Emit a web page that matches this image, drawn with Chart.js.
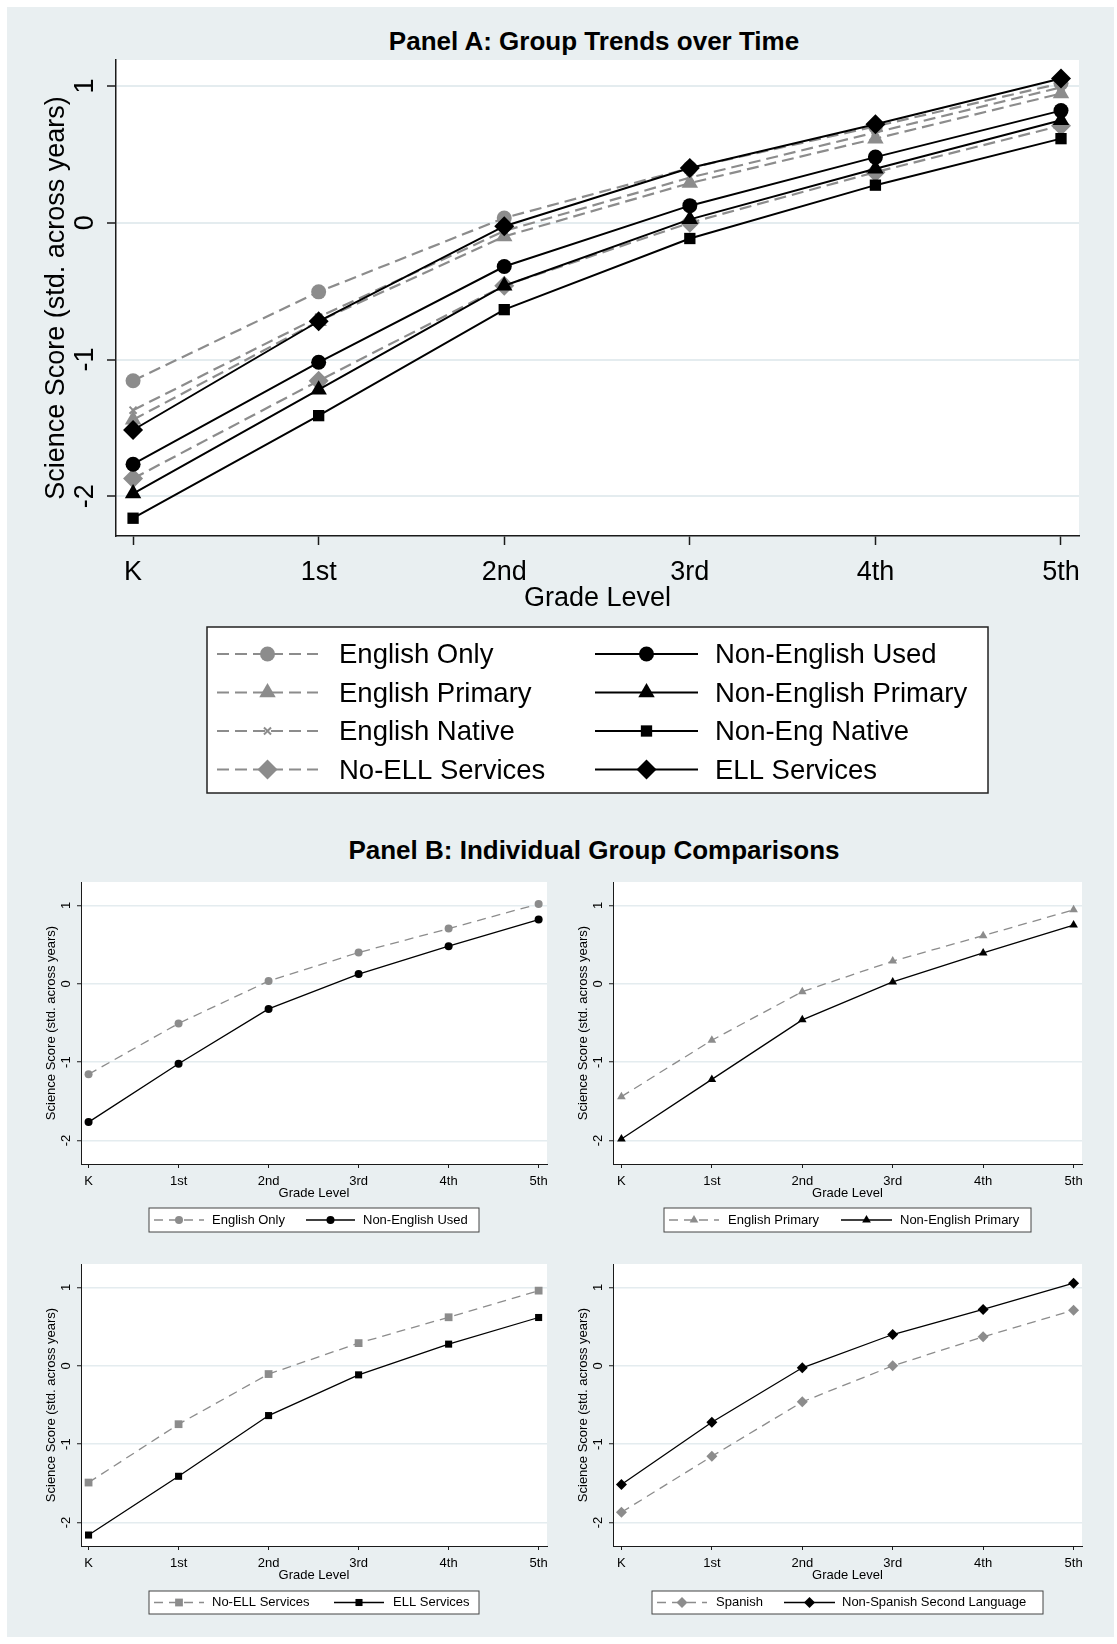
<!DOCTYPE html>
<html>
<head>
<meta charset="utf-8">
<script src="https://cdn.jsdelivr.net/npm/chart.js@4.4.1/dist/chart.umd.min.js"></script>
<style>
  html, body { margin: 0; padding: 0; background: #ffffff; }
  body { width: 1117px; height: 1644px; position: relative; overflow: hidden; font-family: 'Liberation Sans', Arial, sans-serif; }
  #bg { position: absolute; left: 7px; top: 7px; width: 1107px; height: 1630px; background: #e9eff1; }
  .title { position: absolute; left: 94px; width: 1000px; text-align: center; font-weight: bold; font-size: 26px; line-height: 30px; color: #000; }
  .wrap { position: absolute; }
  canvas { display: block; }
</style>
</head>
<body>
<div id="bg"></div>
<div class="title" style="top: 26px;">Panel A: Group Trends over Time</div>
<div class="title" style="top: 835px;">Panel B: Individual Group Comparisons</div>
<div class="wrap"><canvas id="panelA"></canvas></div>
<div class="wrap"><canvas id="panelB1"></canvas></div>
<div class="wrap"><canvas id="panelB2"></canvas></div>
<div class="wrap"><canvas id="panelB3"></canvas></div>
<div class="wrap"><canvas id="panelB4"></canvas></div>

<script>
const grades = ['K', '1st', '2nd', '3rd', '4th', '5th'];
const yTicks = [-2, -1, 0, 1];
const xTitle = 'Grade Level';
const yTitle = 'Science Score (std. across years)';

// Panel A series
const englishOnly = [-1.155, -0.505, 0.035, 0.40, 0.705, 1.02];
const englishPrimary = [-1.44, -0.72, -0.10, 0.29, 0.615, 0.945];
const englishNative = [-1.37, -0.69, -0.06, 0.33, 0.66, 0.99];
const noEllServices = [-1.87, -1.155, -0.46, 0.0, 0.37, 0.71];
const nonEnglishUsed = [-1.765, -1.02, -0.32, 0.125, 0.48, 0.82];
const nonEnglishPrimary = [-1.98, -1.22, -0.46, 0.025, 0.395, 0.75];
const nonEngNative = [-2.16, -1.41, -0.635, -0.115, 0.275, 0.615];
const ellServices = [-1.515, -0.72, -0.025, 0.40, 0.72, 1.055];

// Panel B, bottom row as labelled there
const noEllB = [-1.49, -0.745, -0.105, 0.29, 0.62, 0.96];
const ellB = [-2.16, -1.41, -0.635, -0.115, 0.277, 0.617];
const spanish = [-1.87, -1.155, -0.46, 0.0, 0.37, 0.71];
const nonSpanish = [-1.515, -0.72, -0.025, 0.40, 0.72, 1.055];

const FONT = "'Liberation Sans', Arial, sans-serif";
const BLACK = '#000000';
const GREY = '#8c8c8c';
const GRID = '#e4ecef';
const AXIS = '#1a1a1a';

function series(label, values, grey, style, r, lw, dash) {
    const color = grey ? GREY : BLACK;
    return {
        label: label,
        data: values.map((v, i) => ({ x: i, y: v })),
        borderColor: color,
        borderWidth: lw,
        borderDash: grey ? dash : [],
        pointStyle: style,
        pointRadius: r,
        pointHoverRadius: r,
        pointBackgroundColor: color,
        pointBorderColor: color,
        pointBorderWidth: style === 'crossRot' ? 2 : 0,
        tension: 0,
        fill: false,
        clip: false
    };
}

function drawMarker(ctx, style, r, x, y, color, bw) {
    ctx.save();
    ctx.fillStyle = color;
    ctx.strokeStyle = color;
    ctx.lineWidth = bw || 1;
    ctx.setLineDash([]);
    ctx.beginPath();
    if (style === 'circle') {
        ctx.arc(x, y, r, 0, Math.PI * 2);
        ctx.fill();
    } else if (style === 'triangle') {
        let a = 0;
        ctx.moveTo(x + Math.sin(a) * r, y - Math.cos(a) * r);
        a += Math.PI * 2 / 3;
        ctx.lineTo(x + Math.sin(a) * r, y - Math.cos(a) * r);
        a += Math.PI * 2 / 3;
        ctx.lineTo(x + Math.sin(a) * r, y - Math.cos(a) * r);
        ctx.closePath();
        ctx.fill();
    } else if (style === 'rect') {
        const h = r * Math.SQRT1_2;
        ctx.rect(x - h, y - h, 2 * h, 2 * h);
        ctx.fill();
    } else if (style === 'rectRot') {
        ctx.moveTo(x - r, y);
        ctx.lineTo(x, y - r);
        ctx.lineTo(x + r, y);
        ctx.lineTo(x, y + r);
        ctx.closePath();
        ctx.fill();
    } else if (style === 'crossRot') {
        const d = r * Math.SQRT1_2;
        ctx.moveTo(x - d, y - d);
        ctx.lineTo(x + d, y + d);
        ctx.moveTo(x + d, y - d);
        ctx.lineTo(x - d, y + d);
        ctx.stroke();
    }
    ctx.restore();
}

const stataPlot = {
    id: 'stataPlot',
    beforeDraw(chart) {
        const { ctx, chartArea: a } = chart;
        ctx.save();
        ctx.fillStyle = '#ffffff';
        ctx.fillRect(a.left, a.top, a.right - a.left, a.bottom - a.top);
        ctx.restore();
    },
    afterDraw(chart, args, o) {
        const { ctx, chartArea: a } = chart;
        const x = chart.scales.x;
        const y = chart.scales.y;
        ctx.save();
        ctx.fillStyle = '#000';
        ctx.font = o.fontSize + 'px ' + FONT;
        ctx.textAlign = 'center';
        ctx.textBaseline = 'middle';
        yTicks.forEach(v => {
            ctx.save();
            ctx.translate(a.left - o.yLabelGap, y.getPixelForValue(v));
            ctx.rotate(-Math.PI / 2);
            ctx.fillText(String(v), 0, 0);
            ctx.restore();
        });
        grades.forEach((g, i) => ctx.fillText(g, x.getPixelForValue(i), a.bottom + o.xLabelGap));
        ctx.fillText(xTitle, (a.left + a.right) / 2, a.bottom + o.xTitleGap);
        ctx.save();
        ctx.translate(a.left - o.yTitleGap, (a.top + a.bottom) / 2);
        ctx.rotate(-Math.PI / 2);
        ctx.fillText(yTitle, 0, 0);
        ctx.restore();

        // legend box, page coordinates shifted to this canvas
        const lg = o.legend;
        const ox = o.ox, oy = o.oy;
        ctx.fillStyle = '#ffffff';
        ctx.fillRect(lg.box[0] - ox, lg.box[1] - oy, lg.box[2] - lg.box[0], lg.box[3] - lg.box[1]);
        ctx.strokeStyle = lg.edge;
        ctx.lineWidth = lg.edgeWidth;
        ctx.strokeRect(lg.box[0] - ox, lg.box[1] - oy, lg.box[2] - lg.box[0], lg.box[3] - lg.box[1]);
        lg.items.forEach(it => {
            const ds = chart.data.datasets[it.ds];
            const ly = it.y - oy;
            ctx.save();
            ctx.strokeStyle = ds.borderColor;
            ctx.lineWidth = ds.borderWidth;
            ctx.setLineDash(ds.borderDash || []);
            ctx.beginPath();
            ctx.moveTo(it.x0 - ox, ly);
            ctx.lineTo(it.x1 - ox, ly);
            ctx.stroke();
            ctx.restore();
            drawMarker(ctx, ds.pointStyle, ds.pointRadius, (it.x0 + it.x1) / 2 - ox, ly, ds.pointBackgroundColor, ds.pointBorderWidth);
            ctx.fillStyle = '#000';
            ctx.font = lg.fontSize + 'px ' + FONT;
            ctx.textAlign = 'left';
            ctx.fillText(ds.label, it.tx - ox, ly + (lg.textShift || 0));
        });
        ctx.restore();
    }
};

function makeChart(id, frame, plot, xRange, yRange, datasets, look) {
    const canvas = document.getElementById(id);
    const wrap = canvas.parentElement;
    wrap.style.left = frame.x + 'px';
    wrap.style.top = frame.y + 'px';
    canvas.width = frame.w;
    canvas.height = frame.h;
    const t = look.tickLength;
    return new Chart(canvas, {
        type: 'line',
        data: { datasets: datasets },
        plugins: [stataPlot],
        options: {
            responsive: false,
            animation: false,
            events: [],
            layout: {
                padding: {
                    left: plot.l - frame.x - t,
                    top: plot.t - frame.y,
                    right: frame.x + frame.w - plot.r,
                    bottom: frame.y + frame.h - plot.b - t
                }
            },
            scales: {
                x: {
                    type: 'linear',
                    min: xRange[0],
                    max: xRange[1],
                    afterBuildTicks: s => { s.ticks = grades.map((g, i) => ({ value: i })); },
                    afterFit: s => { s.height = t; },
                    ticks: { display: false },
                    grid: { drawOnChartArea: false, drawTicks: true, tickLength: t, tickColor: AXIS, tickWidth: look.axisWidth },
                    border: { display: true, color: AXIS, width: look.axisWidth }
                },
                y: {
                    type: 'linear',
                    min: yRange[0],
                    max: yRange[1],
                    afterBuildTicks: s => { s.ticks = yTicks.map(v => ({ value: v })); },
                    afterFit: s => { s.width = t; },
                    ticks: { display: false },
                    grid: { color: GRID, lineWidth: look.gridWidth, drawTicks: true, tickLength: t, tickColor: AXIS, tickWidth: look.axisWidth },
                    border: { display: true, color: AXIS, width: look.axisWidth }
                }
            },
            plugins: {
                legend: { display: false },
                tooltip: { enabled: false },
                stataPlot: Object.assign({ ox: frame.x, oy: frame.y }, look)
            }
        }
    });
}

// Panel A
const dashA = [12, 6];
const chartA = makeChart('panelA',
    { x: 0, y: 0, w: 1117, h: 820 },
    { l: 116, t: 60, r: 1079, b: 536 },
    [-0.092, 5.097], [-2.29, 1.19],
    [
        series('Non-English Used', nonEnglishUsed, false, 'circle', 7.5, 2, dashA),
        series('Non-English Primary', nonEnglishPrimary, false, 'triangle', 9.5, 2, dashA),
        series('Non-Eng Native', nonEngNative, false, 'rect', 8, 2, dashA),
        series('ELL Services', ellServices, false, 'rectRot', 10, 2, dashA),
        series('English Only', englishOnly, true, 'circle', 7.5, 2.2, dashA),
        series('English Primary', englishPrimary, true, 'triangle', 9.5, 2.2, dashA),
        series('English Native', englishNative, true, 'crossRot', 5, 2.2, dashA),
        series('No-ELL Services', noEllServices, true, 'rectRot', 10, 2.2, dashA)
    ],
    {
        fontSize: 27, tickLength: 9, axisWidth: 1.5, gridWidth: 2,
        yLabelGap: 30, yTitleGap: 59, xLabelGap: 37, xTitleGap: 63,
        legend: {
            box: [207, 627, 988, 793], edge: '#222', edgeWidth: 1.5, fontSize: 27.5, textShift: 1.5,
            items: [
                { ds: 4, x0: 217, x1: 318, tx: 339, y: 654 },
                { ds: 5, x0: 217, x1: 318, tx: 339, y: 692.5 },
                { ds: 6, x0: 217, x1: 318, tx: 339, y: 731 },
                { ds: 7, x0: 217, x1: 318, tx: 339, y: 769.5 },
                { ds: 0, x0: 595, x1: 698, tx: 715, y: 654 },
                { ds: 1, x0: 595, x1: 698, tx: 715, y: 692.5 },
                { ds: 2, x0: 595, x1: 698, tx: 715, y: 731 },
                { ds: 3, x0: 595, x1: 698, tx: 715, y: 769.5 }
            ]
        }
    });

// Panel B
const dashB = [9, 6];
const lookB = { fontSize: 13, tickLength: 4, axisWidth: 1, gridWidth: 1.5, yLabelGap: 15, yTitleGap: 30, xLabelGap: 17, xTitleGap: 29 };

const chartB1 = makeChart('panelB1',
    { x: 0, y: 860, w: 560, h: 400 },
    { l: 81, t: 882, r: 547, b: 1164 },
    [-0.084, 5.093], [-2.3, 1.3],
    [
        series('Non-English Used', nonEnglishUsed, false, 'circle', 4, 1.3, dashB),
        series('English Only', englishOnly, true, 'circle', 4, 1.3, dashB)
    ],
    Object.assign({}, lookB, {
        legend: {
            box: [149, 1208, 479, 1232], edge: '#444', edgeWidth: 1, fontSize: 13,
            items: [
                { ds: 1, x0: 154, x1: 204, tx: 212, y: 1220 },
                { ds: 0, x0: 306, x1: 355, tx: 363, y: 1220 }
            ]
        }
    }));

const chartB2 = makeChart('panelB2',
    { x: 560, y: 860, w: 557, h: 400 },
    { l: 613, t: 882, r: 1082, b: 1164 },
    [-0.093, 5.093], [-2.3, 1.3],
    [
        series('Non-English Primary', nonEnglishPrimary, false, 'triangle', 5, 1.3, dashB),
        series('English Primary', englishPrimary, true, 'triangle', 5, 1.3, dashB)
    ],
    Object.assign({}, lookB, {
        legend: {
            box: [664, 1208, 1031, 1232], edge: '#444', edgeWidth: 1, fontSize: 13,
            items: [
                { ds: 1, x0: 669, x1: 719, tx: 728, y: 1220 },
                { ds: 0, x0: 841, x1: 892, tx: 900, y: 1220 }
            ]
        }
    }));

const chartB3 = makeChart('panelB3',
    { x: 0, y: 1240, w: 560, h: 404 },
    { l: 81, t: 1264, r: 547, b: 1546 },
    [-0.084, 5.093], [-2.3, 1.3],
    [
        series('ELL Services', ellB, false, 'rect', 5, 1.3, dashB),
        series('No-ELL Services', noEllB, true, 'rect', 5.5, 1.3, dashB)
    ],
    Object.assign({}, lookB, {
        legend: {
            box: [149, 1591, 479, 1614], edge: '#444', edgeWidth: 1, fontSize: 13,
            items: [
                { ds: 1, x0: 154, x1: 204, tx: 212, y: 1602.5 },
                { ds: 0, x0: 334, x1: 384, tx: 393, y: 1602.5 }
            ]
        }
    }));

const chartB4 = makeChart('panelB4',
    { x: 560, y: 1240, w: 557, h: 404 },
    { l: 613, t: 1264, r: 1082, b: 1546 },
    [-0.093, 5.093], [-2.3, 1.3],
    [
        series('Non-Spanish Second Language', nonSpanish, false, 'rectRot', 5.5, 1.3, dashB),
        series('Spanish', spanish, true, 'rectRot', 5.5, 1.3, dashB)
    ],
    Object.assign({}, lookB, {
        legend: {
            box: [652, 1591, 1043, 1614], edge: '#444', edgeWidth: 1, fontSize: 13,
            items: [
                { ds: 1, x0: 657, x1: 707, tx: 716, y: 1602.5 },
                { ds: 0, x0: 784, x1: 835, tx: 842, y: 1602.5 }
            ]
        }
    }));
</script>
</body>
</html>
